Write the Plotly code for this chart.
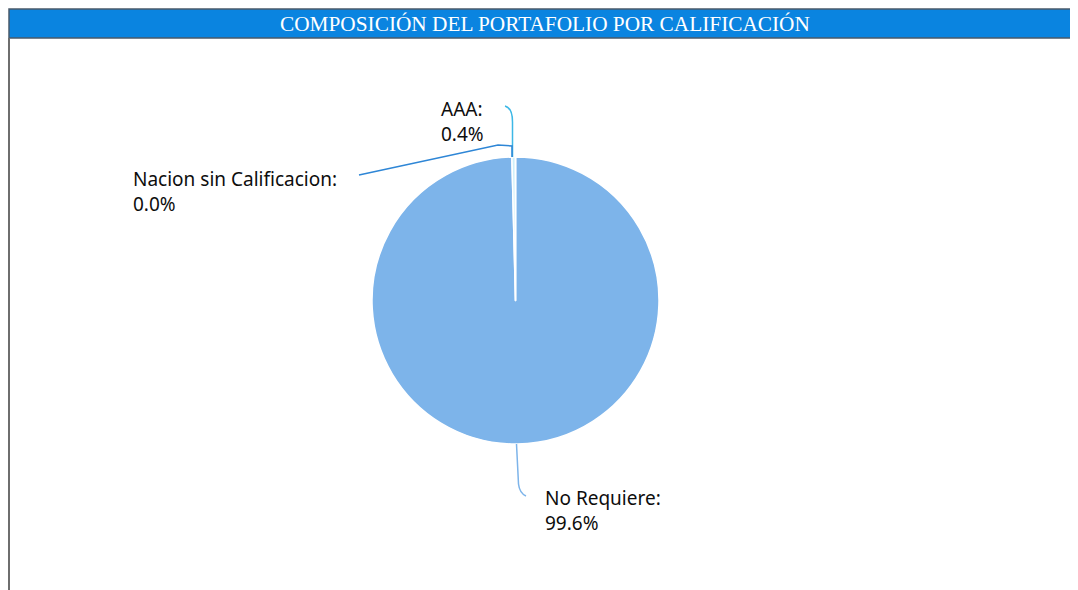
import plotly.graph_objects as go

# ---- data ----
categories = ["No Requiere", "AAA", "Nacion sin Calificacion"]
values = [99.6, 0.4, 0.0]
label_names = ["No Requiere:", "AAA:", "Nacion sin Calificacion:"]
label_values = ["99.6%", "0.4%", "0.0%"]
title_text = "COMPOSICIÓN DEL PORTAFOLIO POR CALIFICACIÓN"

W, H = 1078, 590
OFF = 8  # page body margin offset

def px(x):
    return (x - OFF) / W

def py(y):
    return 1 - (y - OFF) / H

slice_colors = ["#7DB4EA", "#CFEFFA", "#2E86D6"]
leader_colors = ["#7DB4EA", "#3DB8E6", "#2E86D6"]

cx, cy, r = 515.5, 300.5, 143.5

fig = go.Figure()
fig.add_trace(go.Pie(
    labels=categories,
    values=values,
    sort=False,
    direction="clockwise",
    rotation=0,
    textinfo="none",
    marker=dict(colors=slice_colors, line=dict(color="white", width=1.5)),
    domain=dict(x=[px(cx - r), px(cx + r)], y=[py(cy + r), py(cy - r)]),
    showlegend=False,
    hoverinfo="label+percent",
))

shapes = []
# title bar
shapes.append(dict(type="rect", xref="paper", yref="paper",
                   x0=px(9), x1=px(1090), y0=py(38), y1=py(9),
                   fillcolor="#0A84E0", line=dict(color="#4A5A6A", width=1.5), layer="above"))
# left border
shapes.append(dict(type="line", xref="paper", yref="paper",
                   x0=px(9), x1=px(9), y0=py(38), y1=py(600),
                   line=dict(color="#6E6E6E", width=2)))

# leader lines (decorations)
leaders = [
    # No Requiere
    "M {} {} L {} {} Q {} {} {} {}".format(px(516.5), py(444), px(518.5), py(484),
                                           px(519.5), py(493), px(526), py(496)),
    # AAA
    "M {} {} Q {} {} {} {} L {} {}".format(px(505), py(106), px(512.5), py(108),
                                           px(512.5), py(122), px(512.5), py(157)),
    # Nacion
    "M {} {} L {} {} L {} {} L {} {}".format(px(359), py(175), px(498), py(145),
                                             px(512), py(146), px(512), py(157)),
]
for path, col in zip(leaders, leader_colors):
    shapes.append(dict(type="path", xref="paper", yref="paper", path=path,
                       line=dict(color=col, width=1.5)))

# label block centres (pixel coords)
label_pos = [(545, 510.5), (441, 121.5), (133, 191.5)]
annotations = []
for name, val, (lx, ly) in zip(label_names, label_values, label_pos):
    annotations.append(dict(text=name + "<br>" + val, x=px(lx - 1), y=py(ly),
                            xref="paper", yref="paper", borderpad=0,
                            xanchor="left", yanchor="middle", align="left", showarrow=False,
                            font=dict(family="Noto Sans", size=19, color="#0D0D0D")))

annotations.append(dict(text=title_text, x=px(545), y=py(24), xref="paper", yref="paper",
                        xanchor="center", yanchor="middle", showarrow=False,
                        font=dict(family="Liberation Serif", size=21.3, color="white")))

fig.update_layout(
    width=W, height=H,
    margin=dict(l=0, r=0, t=0, b=0),
    paper_bgcolor="white", plot_bgcolor="white",
    shapes=shapes, annotations=annotations,
)

fig.write_html("out.html")
